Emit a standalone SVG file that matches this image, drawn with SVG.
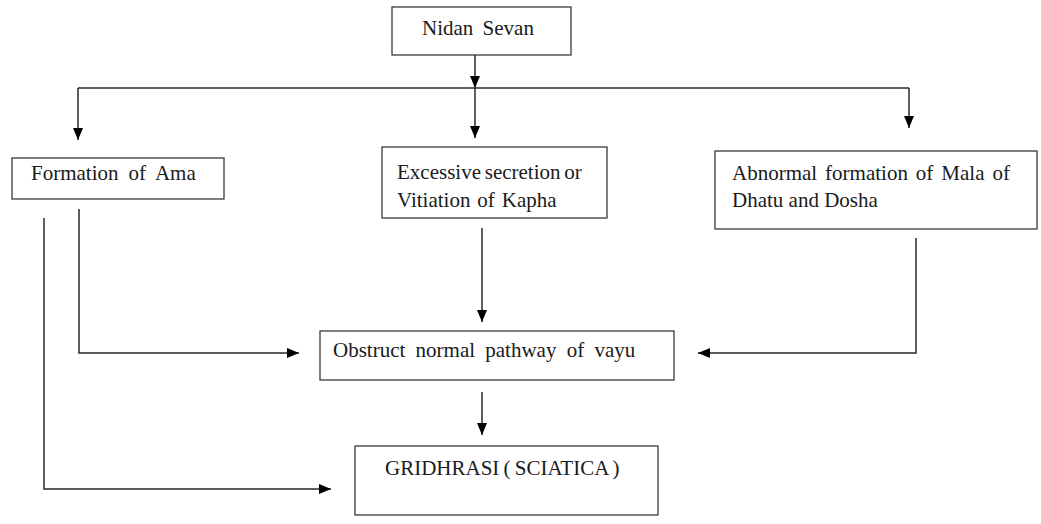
<svg xmlns="http://www.w3.org/2000/svg" width="1041" height="524" viewBox="0 0 1041 524">
<style>
.box{fill:#fff;stroke:#3a3a3a;stroke-width:1.3}
.t{font-family:"Liberation Serif","Times New Roman",serif;font-size:21px;fill:#1a1a1a}
.ln{fill:none;stroke:#2a2a2a;stroke-width:1.5}
</style>
<defs>
<marker id="ah" markerUnits="userSpaceOnUse" markerWidth="12" markerHeight="12" viewBox="0 0 12 10" refX="12" refY="5" orient="auto">
<path d="M0,0 L12,5 L0,10 Z" fill="#000"/>
</marker>
</defs>
<rect width="1041" height="524" fill="#fff"/>
<g id="connectors">
<path class="ln" d="M475,55 V88" marker-end="url(#ah)"/>
<path class="ln" d="M78,88 H909"/>
<path class="ln" d="M78,88 V140" marker-end="url(#ah)"/>
<path class="ln" d="M475,88 V138" marker-end="url(#ah)"/>
<path class="ln" d="M909,88 V128" marker-end="url(#ah)"/>
<path class="ln" d="M79,209 V353 H299" marker-end="url(#ah)"/>
<path class="ln" d="M44,218 V489 H331" marker-end="url(#ah)"/>
<path class="ln" d="M482,228 V322" marker-end="url(#ah)"/>
<path class="ln" d="M916,238 V353 H698" marker-end="url(#ah)"/>
<path class="ln" d="M482,392 V435" marker-end="url(#ah)"/>
</g>
<g id="nidan">
<rect class="box" x="392" y="7" width="179" height="48"/>
<text class="t" x="422" y="35" word-spacing="4">Nidan Sevan</text>
</g>
<g id="ama">
<rect class="box" x="12" y="158" width="212" height="41"/>
<text class="t" x="31" y="180" word-spacing="4.8">Formation of Ama</text>
</g>
<g id="kapha">
<rect class="box" x="382" y="147" width="225" height="71"/>
<text class="t" x="397" y="179" word-spacing="-1.5">Excessive secretion or</text>
<text class="t" x="397" y="207" word-spacing="1.7">Vitiation of Kapha</text>
</g>
<g id="mala">
<rect class="box" x="715" y="151" width="322" height="78"/>
<text class="t" x="732" y="180" word-spacing="2.7">Abnormal formation of Mala of</text>
<text class="t" x="732" y="207">Dhatu and Dosha</text>
</g>
<g id="obstruct">
<rect class="box" x="320" y="331" width="354" height="49"/>
<text class="t" x="333" y="357" word-spacing="5">Obstruct normal pathway of vayu</text>
</g>
<g id="gridhrasi">
<rect class="box" x="355" y="446" width="303" height="69"/>
<text class="t" x="385" y="475" word-spacing="-1">GRIDHRASI ( SCIATICA )</text>
</g>
</svg>
